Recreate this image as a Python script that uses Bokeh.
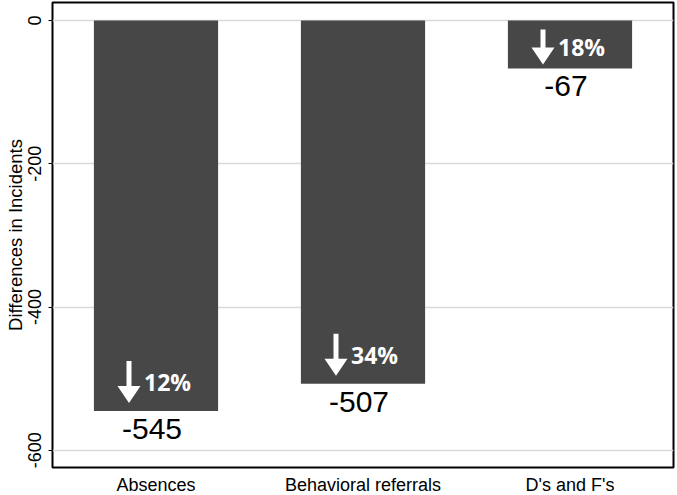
import math
from bokeh.plotting import figure
from bokeh.models import FixedTicker
from bokeh.core.properties import value
from bokeh.embed import file_html
from bokeh.resources import INLINE

# ---- data ----
categories = ["Absences", "Behavioral referrals", "D's and F's"]
differences = [-545, -507, -67]
percent_drop = ["12%", "34%", "18%"]
y_ticks = [0, -200, -400, -600]
y_title = "Differences in Incidents"

# ---- layout constants ----
Y_MIN, Y_MAX = -624, 25
FRAME_W, FRAME_H = 621, 465
TOP = 2
upp_y = (Y_MAX - Y_MIN) / FRAME_H   # data units per pixel (y)
upp_x = 3 / FRAME_W                 # data units per pixel (x)
BAR_COLOR = "#474747"
AXIS_FONT = "Liberation Sans"

xs = [i + 0.5 for i in range(len(categories))]

p = figure(frame_width=FRAME_W, frame_height=FRAME_H,
           x_range=(0, 3), y_range=(Y_MIN, Y_MAX),
           output_backend="svg", toolbar_location=None,
           min_border_left=52, min_border_right=4,
           min_border_top=TOP, min_border_bottom=27)
p.background_fill_color = "white"
p.border_fill_color = "white"
p.outline_line_color = "black"
p.outline_line_width = 2

# bars
p.vbar(x=xs, top=0, bottom=differences, width=0.6,
       fill_color=BAR_COLOR, line_color=None)

# value labels under bars
p.text(x=xs, y=differences, text=[str(v) for v in differences],
       text_align="center", text_baseline="top", x_offset=-4, y_offset=8,
       text_font=value(AXIS_FONT), text_font_size="30px", text_color="black")

# arrows + percent labels
arrow_xs, arrow_ys, pct_x, pct_y = [], [], [], []
for x, v in zip(xs, differences):
    bar_px = -v / upp_y
    len_px = min(42, bar_px - 13)
    gap = min(8, bar_px - 9 - len_px)
    tip = v + gap * upp_y
    top = tip + len_px * upp_y
    base = tip + 17 * upp_y
    ax = x - 27 * upp_x
    hw = 2.5 * upp_x
    hh = 11.5 * upp_x
    arrow_xs.append([ax - hw, ax + hw, ax + hw, ax + hh, ax, ax - hh, ax - hw])
    arrow_ys.append([top, top, base, base, tip, base, base])
    pct_x.append(ax)
    pct_y.append((tip + top) / 2)

p.patches(xs=arrow_xs, ys=arrow_ys, fill_color="white", line_color=None)
p.text(x=pct_x, y=pct_y, text=percent_drop, x_offset=15,
       text_align="left", text_baseline="middle",
       text_font=value("Open Sans"), text_font_style="bold",
       text_font_size="23px", text_color="white")

# y axis
p.yaxis.ticker = FixedTicker(ticks=y_ticks)
p.yaxis.major_label_overrides = {t: str(t) for t in y_ticks}
p.yaxis.major_label_orientation = "vertical"
p.yaxis.major_label_text_font = AXIS_FONT
p.yaxis.major_label_text_font_size = "18px"
p.yaxis.major_label_text_color = "black"
p.yaxis.major_label_standoff = 7
p.yaxis.axis_label = y_title
p.yaxis.axis_label_text_font = AXIS_FONT
p.yaxis.axis_label_text_font_size = "18.5px"
p.yaxis.axis_label_text_font_style = "normal"
p.yaxis.axis_label_text_color = "black"
p.yaxis.axis_label_standoff = 0
p.yaxis.major_tick_out = 4
p.yaxis.major_tick_in = 0
p.yaxis.major_tick_line_color = "black"
p.yaxis.minor_tick_line_color = None
p.yaxis.axis_line_color = None

# x axis
p.xaxis.ticker = FixedTicker(ticks=xs)
p.xaxis.major_label_overrides = {x: c for x, c in zip(xs, categories)}
p.xaxis.major_label_text_font = AXIS_FONT
p.xaxis.major_label_text_font_size = "18px"
p.xaxis.major_label_text_color = "black"
p.xaxis.major_label_standoff = 7
p.xaxis.major_tick_out = 0
p.xaxis.major_tick_in = 0
p.xaxis.major_tick_line_color = None
p.xaxis.minor_tick_line_color = None
p.xaxis.axis_line_color = None

# grid
p.xgrid.grid_line_color = None
p.ygrid.grid_line_color = "#d9d9d9"
p.ygrid.grid_line_width = 1.5

open("out.html", "w").write(file_html(p, INLINE))
